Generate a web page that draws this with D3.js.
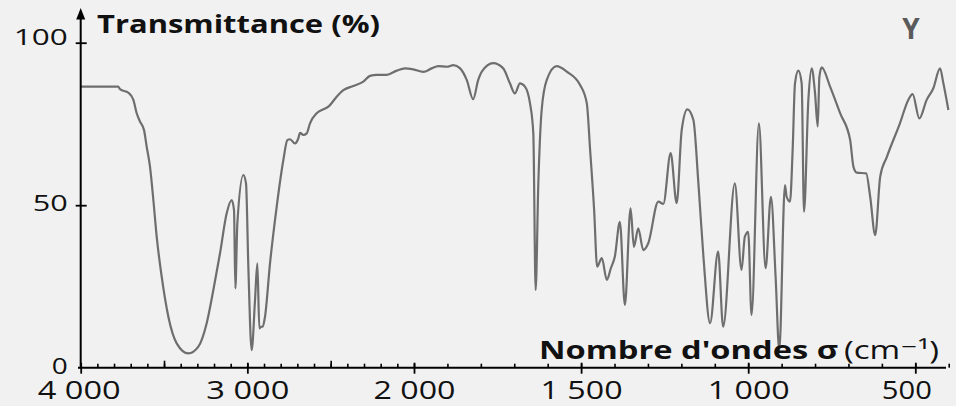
<!DOCTYPE html>
<html>
<head>
<meta charset="utf-8">
<script src="https://cdn.jsdelivr.net/npm/d3@7"></script>
<style>
  html, body { margin: 0; padding: 0; background: #f1f1f1; }
  svg { display: block; font-family: "Open Sans", "DejaVu Sans", sans-serif; }
</style>
</head>
<body>
<svg id="chart" width="956" height="406"></svg>
<script>
// IR spectrum (wavenumber in cm-1, transmittance in %)
const wavenumbers = [4000, 3775, 3764, 3714, 3684, 3664, 3644, 3620, 3604, 3584, 3564, 3544, 3514, 3474, 3424, 3354, 3294, 3244, 3204, 3164, 3124, 3094, 3080, 3072, 3060, 3024, 3008, 2994, 2974, 2954, 2940, 2928, 2918, 2908, 2894, 2864, 2824, 2784, 2760, 2744, 2714, 2694, 2684, 2664, 2644, 2624, 2584, 2544, 2514, 2464, 2424, 2364, 2304, 2264, 2224, 2164, 2104, 2054, 2004,
  1972, 1947, 1927, 1902, 1882, 1862, 1842, 1823, 1808, 1797, 1763, 1733, 1713, 1698, 1683, 1668, 1653, 1643, 1636, 1628, 1618, 1603, 1573, 1543, 1503, 1483, 1473, 1461, 1452, 1438, 1423, 1411, 1399, 1384, 1369, 1352, 1342, 1329, 1314, 1299, 1269, 1254, 1232, 1214, 1199, 1182, 1164, 1149, 1134, 1114, 1090, 1075, 1040, 1020, 1010, 1000, 990, 968, 948, 932, 918, 907, 890, 885, 875, 867, 860, 850, 840, 833, 820, 810, 800, 792, 787, 780, 755, 725, 695, 685, 675, 647, 635, 620, 605, 585, 546, 521, 508, 488, 466, 446, 426, 416, 401];
const transmittance = [86.5, 86.5, 85.7, 84.6, 82.4, 78.3, 75.7, 73.1, 68, 61.8, 51.6, 40.3, 28, 15.7, 7.5, 4.4, 6.5, 13.7, 23.9, 35.2, 47.5, 51.6, 48.5, 24.4, 44.4, 59.3, 56.7, 31, 5.4, 20.8, 32.1, 12.1, 12.6, 12.6, 15.7, 32.1, 49.5, 63.9, 70, 70.3, 69, 70.6, 72.3, 71.6, 72.1, 75.2, 78.3, 79.5, 80.3, 83.4, 85.4, 86.7, 88, 89.8, 90.1, 90.1, 91.4, 92.1, 91.8,
  91, 92.1, 92.8, 92.6, 93.1, 92.1, 88.5, 82.6, 88.5, 91.1, 93.7, 92.1, 87.5, 84.4, 87.5, 86.5, 81.4, 72.1, 23.9, 56.7, 79.3, 88.5, 92.8, 91.1, 87, 81.4, 67, 48.5, 31.1, 33.7, 27, 30.6, 34.2, 44.9, 19.3, 49, 37.2, 42.9, 36.2, 38.3, 51.1, 50.4, 66, 50.6, 73.1, 79.5, 76.2, 56.7, 34.2, 13.7, 35.7, 12.6, 56.7, 30.1, 40.3, 41.8, 16.2, 75.2, 30.6, 52.6, 28, 5.4, 56.2, 52.6, 51.1, 67, 87.5, 91.4, 87.5, 48, 82.4, 92.1, 84.4, 74.2, 89.5, 92.4, 86.5, 78.3, 70.1, 61.8, 60, 59.8, 52.6, 40.8, 58.8, 64.9, 75.2, 82.4, 84.2, 76.7, 82.4, 86, 92.1, 87.5, 79.3];

const xMajorTicks = [4000, 3000, 2000, 1500, 1000, 500];
const xMidTicks = [3500, 2500];
const xMinorTicks = d3.range(4000, 399, -100);
const yTicks = [0, 50, 100];

const svg = d3.select("#chart");
const data = wavenumbers.map((w, i) => ({ w: w, t: transmittance[i] }));

// the scale is compressed by two above 2000 cm-1
const x = d3.scaleLinear().domain([4000, 2000, 500]).range([80.7, 414, 915.3]);
const y = d3.scaleLinear().domain([0, 100]).range([367.7, 42.7]);
const fmt = d3.formatLocale({ decimal: ",", thousands: " ", grouping: [3], currency: ["", ""] }).format(",");

// spectrum
svg.append("path")
  .datum(data)
  .attr("fill", "none")
  .attr("stroke", "#6e6e6e")
  .attr("stroke-width", 2.2)
  .attr("stroke-linejoin", "round")
  .attr("d", d3.line().x(d => x(d.w)).y(d => y(d.t)).curve(d3.curveMonotoneX));

// x axis: minor ticks up, medium ticks up, major ticks crossing
svg.append("g")
  .attr("transform", "translate(0," + y(0) + ")")
  .call(d3.axisBottom(x).tickValues(xMinorTicks).tickSize(-4).tickFormat("").tickSizeOuter(0))
  .call(g => g.select(".domain").remove())
  .call(g => g.selectAll("line").attr("stroke-width", 1.6));

svg.append("g")
  .attr("transform", "translate(0," + y(0) + ")")
  .call(d3.axisBottom(x).tickValues(xMidTicks).tickSize(-7).tickFormat("").tickSizeOuter(0))
  .call(g => g.select(".domain").remove())
  .call(g => g.selectAll("line").attr("stroke-width", 1.6));

const xLabelWidth = { 4000: 83, 3000: 83, 2000: 82, 1500: 82, 1000: 82, 500: 50 };
svg.append("g")
  .attr("transform", "translate(0," + y(0) + ")")
  .call(d3.axisBottom(x).tickValues(xMajorTicks).tickSize(6).tickPadding(8).tickFormat(fmt).tickSizeOuter(0))
  .call(g => g.select(".domain").remove())
  .call(g => g.selectAll("line").attr("y1", -5).attr("stroke-width", 1.8))
  .call(g => g.selectAll("text")
    .attr("font-size", 25)
    .attr("font-family", "'Open Sans', sans-serif")
    .attr("fill", "#111")
    .attr("textLength", d => xLabelWidth[d])
    .attr("lengthAdjust", "spacingAndGlyphs")
    .attr("dx", d => d === 500 ? -9 : (d === 4000 ? -2 : 0)));

svg.append("line")
  .attr("x1", 78).attr("x2", 946)
  .attr("y1", y(0)).attr("y2", y(0))
  .attr("stroke", "#000").attr("stroke-width", 2);

// y axis
const yLabelWidth = { 0: 16, 50: 35, 100: 54 };
const yLabelShift = { 0: -2, 50: -2, 100: -6 };
svg.append("g")
  .attr("transform", "translate(" + x(4000) + ",0)")
  .call(d3.axisLeft(y).tickValues(yTicks).tickSize(5).tickPadding(8).tickSizeOuter(0))
  .call(g => g.select(".domain").remove())
  .call(g => g.selectAll("line").attr("x2", d => d === 0 ? -5 : 6).attr("x1", -5).attr("stroke-width", 1.8))
  .call(g => g.selectAll("text")
    .attr("font-size", 22)
    .attr("font-family", "'Open Sans', sans-serif")
    .attr("fill", "#111")
    .attr("textLength", d => yLabelWidth[d])
    .attr("lengthAdjust", "spacingAndGlyphs")
    .attr("dy", "0.34em")
    .attr("y", d => yLabelShift[d]));

svg.append("line")
  .attr("x1", x(4000)).attr("x2", x(4000))
  .attr("y1", y(0) + 1).attr("y2", 17)
  .attr("stroke", "#000").attr("stroke-width", 2);

svg.append("path")
  .attr("d", d3.line()([[x(4000), 8], [x(4000) + 4.5, 19.5], [x(4000) - 4.5, 19.5]]) + "Z")
  .attr("fill", "#000");

// titles
svg.append("text")
  .attr("x", 97).attr("y", 33)
  .attr("font-size", 25).attr("font-weight", "bold")
  .attr("fill", "#111")
  .attr("textLength", 283).attr("lengthAdjust", "spacingAndGlyphs")
  .text("Transmittance (%)");

svg.append("text")
  .attr("x", 539).attr("y", 359)
  .attr("font-size", 25).attr("font-weight", "bold")
  .attr("fill", "#111")
  .attr("textLength", 299).attr("lengthAdjust", "spacingAndGlyphs")
  .text("Nombre d'ondes σ");

svg.append("text")
  .attr("x", 844).attr("y", 359)
  .attr("font-size", 25)
  .attr("fill", "#111")
  .attr("textLength", 95).attr("lengthAdjust", "spacingAndGlyphs")
  .text("(cm⁻¹)");

svg.append("text")
  .attr("x", 911).attr("y", 39)
  .attr("text-anchor", "middle")
  .attr("font-size", 28).attr("font-weight", "bold")
  .attr("fill", "#5a5a5a")
  .text("Y");
</script>
</body>
</html>
